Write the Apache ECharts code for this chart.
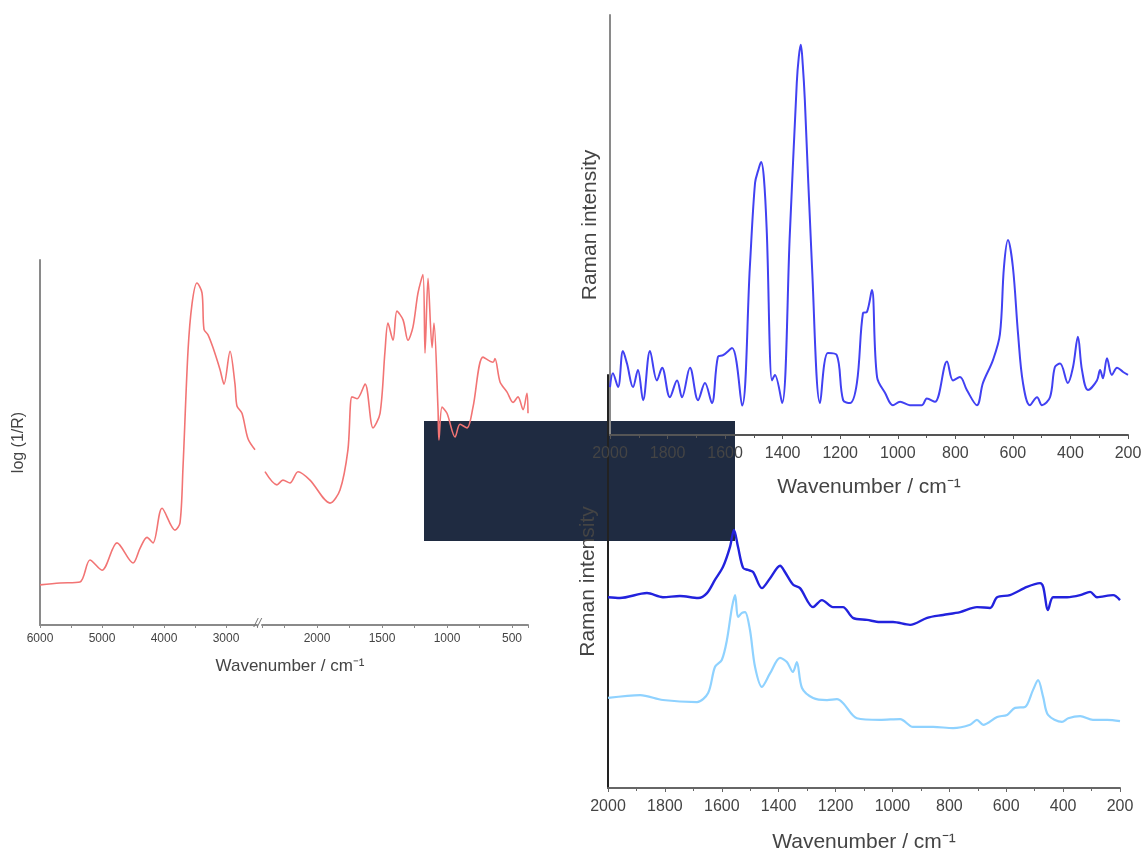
<!DOCTYPE html>
<html>
<head>
<meta charset="utf-8">
<script src="https://cdn.jsdelivr.net/npm/echarts@6/dist/echarts.min.js"></script>
<style>
  html, body { margin: 0; padding: 0; background: #fff; }
  #mainCanvas { width: 1146px; height: 855px; }
</style>
</head>
<body>
<div id="mainCanvas"></div>
<script>
var myChart = echarts.init(document.getElementById("mainCanvas"));

// IR spectrum, high wavenumber part (left of the axis break)
var irHighWn = [6000,5677,5355,5194,5000,4758,4500,4387,4274,4177,4032,3823,3742,3694,3613,3548,3468,3387,3355,3290,3210,3097,3032,2935,2855,2823,2742,2645,2532];
var irHighVal = [11,11.5,11.8,17.8,15,22.5,17,21,24,22.5,32,26,28,43,75,88,93.7,91,81,79.5,76,70,66,75,66,60,58,51,48];
// IR spectrum, low wavenumber part (right of the break)
var irLowWn = [2400,2308,2262,2208,2146,2054,1900,1823,1762,1731,1692,1630,1569,1515,1477,1454,1415,1385,1338,1300,1262,1223,1185,1169,1146,1115,1100,1069,1062,1038,1000,938,900,846,800,723,646,631,592,538,492,454,415,385,377];
var irLowVal = [42,38.4,39.7,38.9,42,39.7,33.4,37,48,62.5,62,66,54,58,75,82.7,78,86,83.6,78,81.6,91,96,74.5,95,76,82.7,59,50.7,59.7,58,51.5,55,54,59.7,73.4,72,73,66.6,63.8,61,62.5,59,63.5,58];

// Raman, upper panel
var ramanTopWn = [2000,1990,1972,1955,1941,1920,1903,1885,1861,1837,1819,1792,1767,1750,1722,1694,1670,1646,1625,1607,1576,1541,1514,1496,1485,1475,1465,1455,1437,1427,1402,1375,1351,1344,1337,1330,1323,1298,1270,1243,1212,1190,1166,1142,1121,1107,1090,1072,1044,1017,992,958,916,899,871,829,808,784,760,725,704,669,645,631,617,600,582,565,541,516,499,471,454,436,409,391,374,360,339,308,297,287,273,256,238,217,200];
var ramanTopVal = [11.4,14.7,11.4,20,17,11.4,15.5,8.3,20,13,16,9,13,9,16,8.3,12.4,7.6,18.6,19,20.7,7,40,60,63,65,61,48,13,14.3,7.6,48,83.8,90,92.9,88,79.8,40,7.6,19.5,19,8.3,7.6,12.4,29,29.3,34.5,13.8,10,7.1,7.9,7.1,7.1,8.7,7.9,17.5,13,13.8,10.7,7.1,12.4,17.9,24,40,46.4,40,24,12.4,7.1,9,7.1,9,16.2,17,12.4,16.2,23.4,15.5,10.7,13,15.5,13.5,18.3,14.3,16,15,14.3];

// Raman, lower panel (two samples)
var ramanDarkWn = [2000,1958,1863,1807,1747,1683,1652,1624,1596,1571,1557,1543,1525,1508,1490,1459,1430,1395,1378,1349,1325,1279,1248,1209,1174,1139,1089,1044,998,938,878,822,762,703,657,632,587,527,481,470,453,435,386,340,305,281,224,200];
var ramanDarkVal = [46.2,46,47.2,46.2,46.5,46,47.2,50.4,53.5,58.4,62.5,58.4,53.3,52.8,52.3,48.4,50.8,53.8,52.3,49.2,48.4,43.8,45.5,43.8,43.8,41.2,40.7,40.2,40.2,39.5,41.2,41.9,42.6,43.8,43.6,46.2,46.7,48.7,49.6,48.7,43.1,46.2,46.2,46.7,47.5,46.2,46.7,45.5];
var ramanLightWn = [2000,1887,1807,1687,1648,1624,1600,1582,1564,1553,1543,1529,1518,1501,1483,1459,1430,1395,1371,1350,1336,1318,1279,1230,1195,1174,1125,1044,973,928,857,787,727,703,681,632,597,569,534,506,488,470,453,404,382,340,295,245,200];
var ramanLightVal = [21.8,22.5,21.3,20.8,23,29.3,31,35.8,43.8,46.7,41.4,42.4,42.6,38.3,29.3,24.5,27.8,31.5,30.5,28.1,30.5,24.2,21.8,21.3,21.5,20.6,16.9,16.5,16.7,14.8,14.8,14.5,15.3,16.5,15.3,17.2,17.7,19.4,19.6,23.7,26.1,22,17.7,16,16.9,17.4,16.5,16.5,16.2];

function pairs(xs, ys) {
    var out = [];
    for (var i = 0; i < xs.length; i++) out.push([xs[i], ys[i]]);
    return out;
}

var font = 'Liberation Sans, Arial, sans-serif';
var xName = 'Wavenumber / cm\u207B\u00B9';

function hiddenY(grid, color, name, gap, size) {
    return {
        type: 'value', gridIndex: grid, min: 0, max: 100,
        axisLine: { show: true, lineStyle: { color: color, width: 2 } },
        axisTick: { show: false }, axisLabel: { show: false }, splitLine: { show: false },
        name: name, nameLocation: 'middle', nameGap: gap,
        nameTextStyle: { fontFamily: font, fontSize: size, color: '#444' }
    };
}

function ramanX(grid, lineColor, gap) {
    return {
        type: 'value', gridIndex: grid, min: 200, max: 2000, interval: 200, inverse: true,
        axisLine: { lineStyle: { color: lineColor, width: 2 } },
        axisTick: { length: 4, lineStyle: { color: lineColor } },
        minorTick: { show: true, splitNumber: 2, length: 3, lineStyle: { color: lineColor } },
        axisLabel: {
            fontFamily: font, fontSize: 16, color: '#444', margin: 11,
            formatter: function (v) { return String(v); }
        },
        splitLine: { show: false },
        name: xName, nameLocation: 'middle', nameGap: gap,
        nameTextStyle: { fontFamily: font, fontSize: 21, color: '#444' }
    };
}

var irAxisStyle = {
    axisLine: { lineStyle: { color: '#8a8a8a', width: 2 } },
    axisTick: { length: 3, lineStyle: { color: '#8a8a8a' } },
    splitLine: { show: false }
};

var option = {
    animation: false,
    title: [{
        text: xName, left: 285, top: 653, textAlign: 'center',
        textStyle: { fontFamily: font, fontSize: 17, fontWeight: 'normal', color: '#444' }
    }],
    grid: [
        { left: 40, top: 260, width: 217, height: 365 },
        { left: 262, top: 260, width: 266, height: 365 },
        { left: 610, top: 15, width: 518, height: 420 },
        { left: 608, top: 375, width: 512, height: 413 }
    ],
    xAxis: [
        Object.assign({
            type: 'value', gridIndex: 0, min: 2500, max: 6000, interval: 500, inverse: true,
            axisLabel: {
                fontFamily: font, fontSize: 12, color: '#444', margin: 8,
                formatter: function (v) { return v % 1000 === 0 ? String(v) : ''; }
            }
        }, irAxisStyle),
        Object.assign({
            type: 'value', gridIndex: 1, min: 377, max: 2423, splitNumber: 4, inverse: true,
            minorTick: { show: true, splitNumber: 2, length: 3, lineStyle: { color: '#8a8a8a' } },
            axisLabel: {
                fontFamily: font, fontSize: 12, color: '#444', margin: 8,
                showMinLabel: false, showMaxLabel: false,
                formatter: function (v) { return v % 500 === 0 ? String(v) : ''; }
            }
        }, irAxisStyle),
        ramanX(2, '#555', 42),
        ramanX(3, '#666', 44)
    ],
    yAxis: [
        hiddenY(0, '#8a8a8a', 'log (1/R)', 13, 16),
        Object.assign(hiddenY(1, '#8a8a8a', '', 0, 12), { axisLine: { show: false } }),
        hiddenY(2, '#8a8a8a', 'Raman intensity', 9, 21),
        hiddenY(3, '#222', 'Raman intensity', 9, 21)
    ],
    graphic: [{
        type: 'rect', z: -1,
        shape: { x: 424, y: 421, width: 311, height: 120 },
        style: { fill: '#1f2b41' }
    }, {
        type: 'text', z: 5, left: 254, top: 617,
        style: { text: '//', fontFamily: font, fontSize: 13, fontStyle: 'italic', fill: '#777' }
    }],
    series: [
        { type: 'line', xAxisIndex: 0, yAxisIndex: 0, data: pairs(irHighWn, irHighVal), smooth: 0.3, showSymbol: false, lineStyle: { color: '#f27474', width: 1.6 } },
        { type: 'line', xAxisIndex: 1, yAxisIndex: 1, data: pairs(irLowWn, irLowVal), smooth: 0.3, showSymbol: false, lineStyle: { color: '#f27474', width: 1.6 } },
        { type: 'line', xAxisIndex: 2, yAxisIndex: 2, data: pairs(ramanTopWn, ramanTopVal), smooth: 0.35, showSymbol: false, lineStyle: { color: '#4141f2', width: 2 } },
        { type: 'line', xAxisIndex: 3, yAxisIndex: 3, data: pairs(ramanDarkWn, ramanDarkVal), smooth: 0.3, showSymbol: false, lineStyle: { color: '#2222dd', width: 2.4 } },
        { type: 'line', xAxisIndex: 3, yAxisIndex: 3, data: pairs(ramanLightWn, ramanLightVal), smooth: 0.3, showSymbol: false, lineStyle: { color: '#8fd2ff', width: 2.2 } }
    ]
};

myChart.setOption(option);
</script>
</body>
</html>
